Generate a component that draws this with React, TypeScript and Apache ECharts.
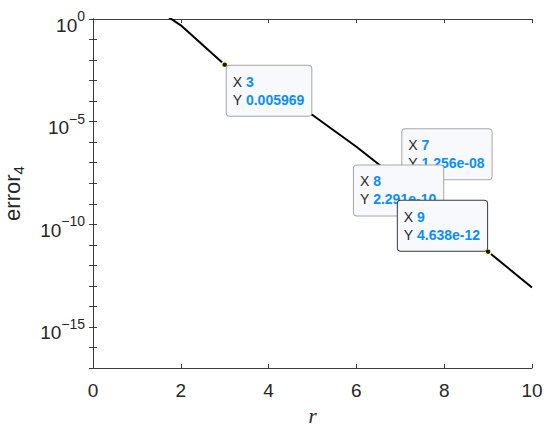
import React, { useEffect, useRef } from 'react';
import * as echarts from 'echarts';

// ---- data ----
const rValues = [1, 2, 3, 4, 5, 6, 7, 8, 9, 10];
const errorValues = [13.5, 0.49, 0.005969, 3.5e-4, 2.1e-5, 6.0e-7, 1.256e-8, 2.291e-10, 4.638e-12, 8.3e-14];
const xTickValues = [0, 2, 4, 6, 8, 10];
const yLabelExponents = [0, -5, -10, -15];
const yMinExp = -17;
const yMaxExp = 0;
const tipR = [3, 7, 8, 9];

// ---- datatip placement (styling only) ----
const tipPlacement: Record<number, { align: string; verticalAlign: string; offset: number[]; border: string }> = {
  3: { align: 'left', verticalAlign: 'top', offset: [2, 1], border: '#a6a6a6' },
  7: { align: 'left', verticalAlign: 'bottom', offset: [2, -2], border: '#a6a6a6' },
  8: { align: 'right', verticalAlign: 'bottom', offset: [-1, -1.5], border: '#a6a6a6' },
  9: { align: 'right', verticalAlign: 'bottom', offset: [-1, -1], border: '#3a3a3a' },
};

const SANS = 'Liberation Sans, Arial, Helvetica, sans-serif';
const SERIF = 'Liberation Serif, Times New Roman, serif';
const AXIS_COLOR = '#3c3c3c';
const TEXT_COLOR = '#262626';

function fmtY(v: number): string {
  if (v >= 1e-3) return v.toPrecision(4);
  const s = v.toExponential(3);
  return s.replace(/e([+-])(\d)$/, 'e$10$2');
}

function fmtExp(e: number): string {
  return e < 0 ? '\u2212' + String(-e) : String(e);
}

export default function App() {
  const ref = useRef<HTMLDivElement>(null);
  useEffect(() => {
    document.body.style.margin = '0';
    const chart = echarts.init(ref.current!, null, { renderer: 'svg' });

    const data = rValues.map((r, i) => {
      const isTip = tipR.indexOf(r) >= 0;
      if (!isTip) return { value: [r, errorValues[i]], symbol: 'none' };
      const p = tipPlacement[r];
      return {
        value: [r, errorValues[i]],
        symbol: 'circle',
        symbolSize: 6,
        itemStyle: { color: '#1a1a1a', borderColor: '#ffffb3', borderWidth: 1.5 },
        label: {
          show: true,
          position: 'inside',
          align: p.align,
          verticalAlign: p.verticalAlign,
          offset: p.offset,
          borderColor: p.border,
        },
      };
    });

    const option: any = {
      animation: false,
      backgroundColor: '#ffffff',
      grid: { left: 93, right: 18, top: 19, bottom: 60, containLabel: false, outerBoundsMode: 'none' },
      xAxis: [
        {
          type: 'value',
          min: xTickValues[0],
          max: xTickValues[xTickValues.length - 1],
          interval: xTickValues[1] - xTickValues[0],
          name: 'r',
          nameLocation: 'middle',
          nameGap: 37,
          nameTextStyle: { fontFamily: SERIF, fontStyle: 'italic', fontSize: 21, color: TEXT_COLOR, lineHeight: 21 },
          axisLine: { show: true, lineStyle: { color: AXIS_COLOR, width: 1 } },
          axisTick: { show: true, inside: true, length: 4, lineStyle: { color: AXIS_COLOR } },
          axisLabel: { fontFamily: SANS, fontSize: 19, color: TEXT_COLOR, margin: 13, lineHeight: 19 },
          splitLine: { show: false },
        },
        {
          type: 'value',
          position: 'top',
          min: xTickValues[0],
          max: xTickValues[xTickValues.length - 1],
          interval: xTickValues[1] - xTickValues[0],
          axisLine: { show: true, lineStyle: { color: AXIS_COLOR, width: 1 } },
          axisTick: { show: true, inside: true, length: 4, lineStyle: { color: AXIS_COLOR } },
          axisLabel: { show: false },
          splitLine: { show: false },
        },
      ],
      yAxis: [
        {
          type: 'log',
          logBase: 10,
          min: Math.pow(10, yMinExp),
          max: Math.pow(10, yMaxExp),
          interval: 1,
          name: '{a|error}{c|4}',
          nameLocation: 'middle',
          nameRotate: 90,
          nameGap: 60,
          nameTextStyle: {
            rich: {
              a: { fontFamily: SANS, fontSize: 22, color: TEXT_COLOR, lineHeight: 22, padding: [0, 0, 6, 0] },
              c: { fontFamily: SANS, fontSize: 15, color: TEXT_COLOR, lineHeight: 15, padding: [10, 0, 3, 0] },
            },
          },
          axisLine: { show: true, lineStyle: { color: AXIS_COLOR, width: 1 } },
          axisTick: { show: true, inside: true, length: 4, lineStyle: { color: AXIS_COLOR } },
          axisLabel: {
            margin: 8,
            formatter: (v: number) => {
              const e = Math.round(Math.log10(v));
              return yLabelExponents.indexOf(e) >= 0 ? `{b|10}{s|${fmtExp(e)}}` : '';
            },
            rich: {
              b: { fontFamily: SANS, fontSize: 19, color: TEXT_COLOR, lineHeight: 19, padding: [12.5, 0, 0.5, 0] },
              s: { fontFamily: SANS, fontSize: 14, color: TEXT_COLOR, lineHeight: 14, padding: [6, 0, 12, 0] },
            },
          },
          splitLine: { show: false },
          minorTick: { show: false },
        },
        {
          type: 'log',
          logBase: 10,
          position: 'right',
          min: Math.pow(10, yMinExp),
          max: Math.pow(10, yMaxExp),
          interval: 1,
          axisLine: { show: true, lineStyle: { color: AXIS_COLOR, width: 1 } },
          axisTick: { show: true, inside: true, length: 4, lineStyle: { color: AXIS_COLOR } },
          axisLabel: { show: false },
          splitLine: { show: false },
        },
      ],
      series: [
        {
          type: 'line',
          xAxisIndex: 0,
          yAxisIndex: 0,
          data,
          showSymbol: true,
          clip: true,
          lineStyle: { color: '#000000', width: 2 },
          itemStyle: { color: '#000000' },
          emphasis: { disabled: true },
          z: 3,
          label: {
            show: false,
            formatter: (p: any) => `{k|X }{v|${p.value[0]}}\n{k|Y }{v|${fmtY(p.value[1])}}`,
            fontFamily: SANS,
            fontSize: 14,
            lineHeight: 18,
            color: TEXT_COLOR,
            backgroundColor: '#f8f9fc',
            borderWidth: 1,
            borderRadius: 3,
            padding: [7, 7, 7, 6],
            rich: {
              k: { fontFamily: SANS, fontSize: 14, lineHeight: 18, color: TEXT_COLOR, align: 'left' },
              v: { fontFamily: SANS, fontSize: 14, lineHeight: 18, color: '#0a8eff', fontWeight: 'bold', align: 'left' },
            },
          },
        },
      ],
    };

    chart.setOption(option);
    return () => chart.dispose();
  }, []);
  return <div ref={ref} style={{ width: 550, height: 428 }} />;
}
